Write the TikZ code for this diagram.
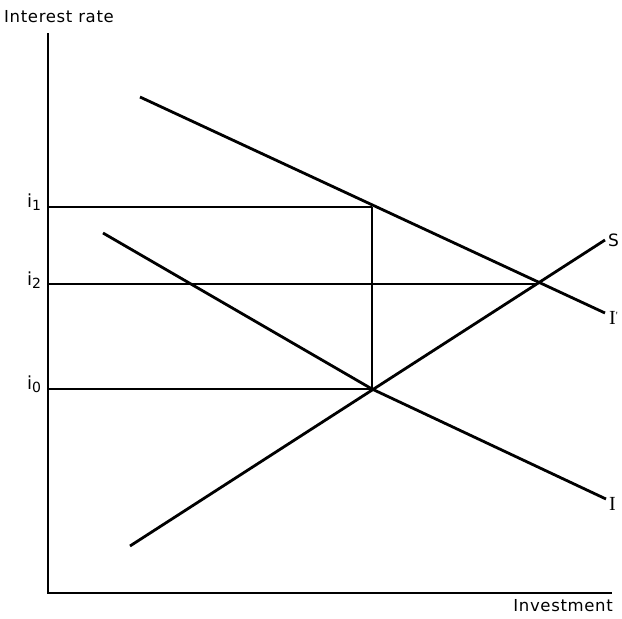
\documentclass[tikz,border=0pt]{standalone}
\usepackage{fontspec}
\setmainfont{DejaVu Sans}[LetterSpace=4]
\newfontfamily\serifI{Liberation Serif}
\newcommand{\isub}[1]{i\raisebox{-0.35ex}{\fontsize{14}{15}\selectfont #1}}
\begin{document}
\begin{tikzpicture}[x=1pt,y=-1pt,
  axis/.style={line width=2.6pt},
  curve/.style={line width=2.8pt},
  guide/.style={line width=1.5pt},
  vguide/.style={line width=2.4pt},
  lab/.style={font=\fontsize{16.5}{18}\selectfont, inner sep=0pt},
  ilab/.style={font=\fontsize{18}{20}\selectfont, inner sep=0pt},
  curvelab/.style={font=\serifI\fontsize{20}{22}\selectfont, inner sep=0pt}]
\useasboundingbox (0,0) rectangle (622,619);
% axes
\coordinate (O) at (48,593);
\coordinate (Ytop) at (48,33);
\coordinate (Xend) at (612,593);
\draw[axis] (Ytop) -- (O) -- (Xend);
% key points
\coordinate (E0) at (372,389);
\coordinate (E1) at (372,207);
\coordinate (E2) at (538,284);
\coordinate (Y1) at (48,207);
\coordinate (Y2) at (48,284);
\coordinate (Y0) at (48,389);
% curve ends
\coordinate (Ips) at (140,97);
\coordinate (Ipe) at (605,313);
\coordinate (Is) at (103,233);
\coordinate (Ie) at (606,499);
\coordinate (Ss) at (130,546);
\coordinate (Se) at (605,240);
% curves
\draw[curve] (Ips) -- (Ipe);
\draw[curve] (Is) -- (E0) -- (Ie);
\draw[curve] (Ss) -- (Se);
% guides
\draw[guide] (Y1) -- (E1);
\draw[guide] (Y2) -- (E2);
\draw[guide] (Y0) -- (E0);
\draw[vguide] (E1) -- (E0);
% labels
\node[lab, anchor=west] (ylab) at (4,17) {Interest rate};
\node[lab, anchor=east] (xlab) at (613,606) {Investment};
\node[ilab] (li1) at (34,202) {\isub{1}};
\node[ilab] (li2) at (34,280) {\isub{2}};
\node[ilab] (li0) at (34,384) {\isub{0}};
\node[curvelab, anchor=west] (lIp) at (609,318) {I\raisebox{0.6ex}{\fontsize{11}{12}\selectfont '}};
\node[curvelab, anchor=west] (lI) at (609,504) {I};
\node[lab, font=\fontsize{17}{19}\selectfont, anchor=west] (lS) at (608,240) {S};
\end{tikzpicture}
\end{document}
